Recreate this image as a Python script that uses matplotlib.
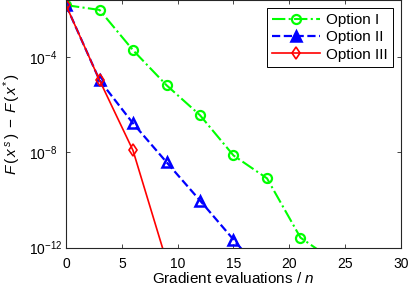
import numpy as np
import matplotlib
matplotlib.use("Agg")
import matplotlib.pyplot as plt

plt.rcParams['font.family'] = ['Liberation Sans', 'DejaVu Sans']
plt.rcParams['mathtext.fontset'] = 'custom'
plt.rcParams['mathtext.it'] = 'Liberation Sans:italic'
plt.rcParams['mathtext.rm'] = 'Liberation Sans'

# gradient evaluations / n
x1 = [0, 3, 6, 9, 12, 15, 18, 21, 24]
x2 = [0, 3, 6, 9, 12, 15, 18]
x3 = [0, 3, 6, 9]
# log10 of F(x^s) - F(x*)
logy1 = [-1.82, -2.02, -3.71, -5.18, -6.44, -8.13, -9.09, -11.58, -12.55]
logy2 = [-1.82, -4.97, -6.78, -8.41, -10.02, -11.66, -13.3]
logy3 = [-1.82, -4.97, -7.92, -12.56]
labels = ["Option I", "Option II", "Option III"]

fig = plt.figure(figsize=(4.09, 2.87), dpi=100)
ax = fig.add_axes([0.1614, 0.137, 0.819, 0.8625])

ax.semilogy(x1, 10.0 ** np.array(logy1), color=(0, 1, 0), ls='-.', lw=1.5,
            marker='o', ms=6.5, mfc='none', mew=1.6, label=labels[0])
ax.semilogy(x2, 10.0 ** np.array(logy2), color=(0, 0, 1), ls='--', lw=1.6,
            marker='^', ms=6.5, mfc='none', mew=1.8, label=labels[1])
ax.semilogy(x3, 10.0 ** np.array(logy3), color=(1, 0, 0), ls='-', lw=1.2,
            marker='d', ms=6.5, mfc='none', mew=1.2, label=labels[2])

ax.set_xlim(0, 30)
ax.set_ylim(1e-12, 10 ** -1.61)
ax.set_xticks([0, 5, 10, 15, 20, 25, 30])
ax.set_yticks([1e-12, 1e-8, 1e-4])
ax.minorticks_off()
ax.tick_params(direction='in', top=True, right=True, labelsize=10, length=3,
               width=0.6, colors='#262626')
ax.tick_params(labelcolor='black')
ax.tick_params(axis='x', pad=7)
ax.tick_params(axis='y', pad=27)
for t in ax.get_yticklabels():
    t.set_horizontalalignment('left')
for s in ax.spines.values():
    s.set_linewidth(0.8)
    s.set_color('#262626')

ax.set_xlabel("Gradient evaluations / $n$", fontsize=11, labelpad=0)
ax.set_ylabel("$F\\,(\\,x^{\\,\\mathit{s}}\\,)\\;-\\;F\\,(\\,x^{*}\\,)$", fontsize=11, labelpad=4)

leg = ax.legend(loc='upper right', bbox_to_anchor=(0.976, 0.968), borderaxespad=0,
                fontsize=11, fancybox=False, framealpha=1,
                edgecolor='black', borderpad=0.35, labelspacing=0.2,
                handlelength=3.1, handletextpad=0.4)
leg.get_frame().set_linewidth(0.7)
leg.legend_handles[1].set_markerfacecolor((0, 0, 1))

fig.savefig("out.png", dpi=100)
